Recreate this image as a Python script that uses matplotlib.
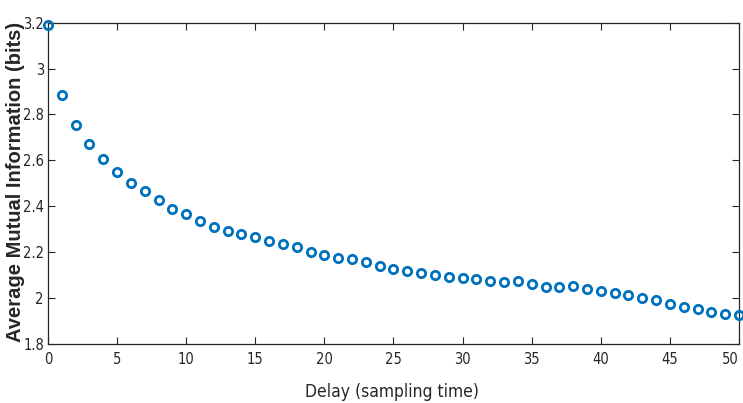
import matplotlib
matplotlib.use("Agg")
import matplotlib.pyplot as plt
from matplotlib import font_manager
from matplotlib.font_manager import FontProperties

delay = list(range(0, 51))
ami = [3.190, 2.885, 2.754, 2.671, 2.605, 2.551, 2.503, 2.466, 2.427, 2.390,
       2.365, 2.336, 2.308, 2.291, 2.281, 2.265, 2.249, 2.234, 2.224, 2.202,
       2.188, 2.176, 2.169, 2.156, 2.140, 2.127, 2.118, 2.108, 2.101, 2.093,
       2.086, 2.083, 2.074, 2.072, 2.076, 2.061, 2.050, 2.050, 2.053, 2.038,
       2.031, 2.024, 2.012, 2.002, 1.992, 1.974, 1.963, 1.952, 1.941, 1.931,
       1.928]
xticks = [0, 5, 10, 15, 20, 25, 30, 35, 40, 45, 50]
yticks = [1.8, 2.0, 2.2, 2.4, 2.6, 2.8, 3.0, 3.2]
ytick_labels = ["1.8", "2", "2.2", "2.4", "2.6", "2.8", "3", "3.2"]
xlabel = "Delay (sampling time)"
ylabel = "Average Mutual Information (bits)"

# look for a condensed / narrow sans face
cand = None
for f in font_manager.fontManager.ttflist:
    nm = (f.name + " " + str(f.fname)).lower()
    if f.weight in (400, "normal", "regular") and f.style == "normal" and \
       ("narrow" in nm or "condensed" in nm or f.stretch in ("condensed", "semi-condensed")):
        if "mono" in nm or "serif" in nm.replace("sans", ""):
            continue
        cand = f.fname
        if "sans" in nm:
            break
if cand:
    tickfp = FontProperties(fname=cand, size=10.5)
    xlabfp = FontProperties(fname=cand, size=12.5)
else:
    tickfp = FontProperties(family="Liberation Sans", size=9.5)
    xlabfp = FontProperties(family="Liberation Sans", size=11.5)

fig = plt.figure(figsize=(7.43, 4.03), dpi=100)
ax = fig.add_axes([0.0646, 0.1464, 0.9300, 0.7973])

ax.plot(delay, ami, linestyle="none", marker="o", markersize=6.0,
        markerfacecolor="none", markeredgecolor="#0072BD",
        markeredgewidth=2.0, clip_on=False, zorder=3)

ax.set_xlim(0, 50)
ax.set_ylim(1.8, 3.2)
ax.set_xticks(xticks)
ax.set_yticks(yticks)
ax.set_xticklabels([str(t) for t in xticks], fontproperties=tickfp)
ax.set_yticklabels(ytick_labels, fontproperties=tickfp)
ax.tick_params(direction="in", length=5, width=0.8, top=True, right=True,
               colors="#262626", labelcolor="#262626")
ax.tick_params(axis="y", pad=3)
ax.tick_params(axis="x", pad=6)
lbls = ax.get_xticklabels()
lbls[-1].set_horizontalalignment("right")
lbls[-1].set_x(50)
for s in ax.spines.values():
    s.set_color("#262626")
    s.set_linewidth(0.9)

ax.set_xlabel(xlabel, fontproperties=xlabfp, color="#262626")
ax.xaxis.set_label_coords(0.498, -0.149)
ax.xaxis.label.set_verticalalignment("center")
ax.set_ylabel(ylabel, fontfamily="Liberation Sans", fontweight="bold",
              fontsize=14.5, color="#262626")
ax.yaxis.set_label_coords(-0.0475, 0.505)
ax.yaxis.label.set_verticalalignment("center")

fig.savefig("out.png", dpi=100)
